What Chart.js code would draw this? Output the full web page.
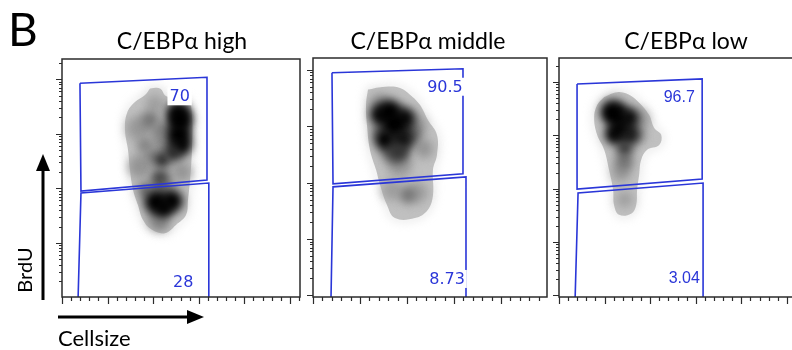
<!DOCTYPE html>
<html>
<head>
<meta charset="utf-8">
<script src="https://cdn.jsdelivr.net/npm/chart.js@4.4.1/dist/chart.umd.min.js"></script>
<style>
  html, body { margin: 0; padding: 0; background: #fff; width: 792px; height: 350px; overflow: hidden; position: relative; }
  canvas { position: absolute; top: 0; }
  .txt { position: absolute; font-family: Lato, 'Open Sans', sans-serif; color: #000; white-space: nowrap; z-index: 2; }
  .panel-letter { left: 8px; top: 6px; font-size: 46px; line-height: 46px; }
  .panel-title { top: 29px; font-size: 23px; line-height: 23px; transform: translateX(-50%); }
  .y-title { left: 24px; top: 270px; font-size: 20px; line-height: 20px; transform: translate(-50%, -50%) rotate(-90deg); }
  .x-title { left: 58px; top: 327px; font-size: 22px; line-height: 22px; }
</style>
</head>
<body>
<div class="txt panel-letter">B</div>
<div class="txt y-title">BrdU</div>
<div class="txt x-title">Cellsize</div>
<canvas id="p0" width="306" height="350" style="left:0px"></canvas>
<canvas id="p1" width="244" height="350" style="left:306px"></canvas>
<canvas id="p2" width="250" height="350" style="left:552px"></canvas>
<script>
// Panel titles and gate frequencies (%)
const panelTitles = ['C/EBPα high', 'C/EBPα middle', 'C/EBPα low'];
const upperPct    = ['70', '90.5', '96.7'];
const lowerPct    = ['28', '8.73', '3.04'];

// Axis ranges: x = cell size (FSC, x1000), y = log10 BrdU
const xMax = [261, 249, 261];
const yMin = [1.01, 0.97, 0.97];
const yMax = [5.37, 5.21, 5.45];
const xMajorTicks = [0, 50, 100, 150, 200, 250];
const xMinorTicks = [10, 20, 30, 40, 60, 70, 80, 90, 110, 120, 130, 140, 160, 170, 180, 190, 210, 220, 230, 240, 260];
const yDecades    = [1, 2, 3, 4, 5];

// Gates: [cellsize, log10 BrdU]
const highUpperGate   = [[19.7, 4.925], [159, 5.035], [159, 3.152], [20.8, 2.951], [19.7, 4.925]];
const highLowerGate   = [[17.5, 0.9], [20.8, 2.914], [161, 3.097], [161, 0.9]];
const middleUpperGate = [[20.2, 4.948], [159.6, 5.02], [159.6, 3.155], [21.3, 2.977], [20.2, 4.948]];
const middleLowerGate = [[19.1, 0.9], [21.3, 2.924], [162.8, 3.10], [162.8, 0.9]];
const lowUpperGate    = [[19.8, 4.964], [157, 5.058], [157, 3.18], [19.8, 2.994], [19.8, 4.964]];
const lowLowerGate    = [[17.6, 0.9], [20.9, 2.919], [158, 3.107], [158, 0.9]];

// Where the frequencies sit: [cellsize, log10 BrdU]
const upperLabelPos = [[129, 4.687], [140.4, 4.70], [131.9, 4.72]];
const lowerLabelPos = [[133, 1.287], [142.6, 1.29], [137.4, 1.325]];

// Outer contour of each cell population: [cellsize, log10 BrdU]
const highOutline = [
  [96.5, 4.83], [107.5, 4.83], [114.0, 4.69], [123.9, 4.65], [138.2, 4.61], [142.5, 4.34], [142.5, 3.70],
  [140.4, 3.15], [138.2, 2.79], [136.0, 2.51], [125.0, 2.33], [112.9, 2.18], [98.7, 2.24], [88.8, 2.42],
  [83.3, 2.69], [77.9, 2.97], [74.6, 3.33], [72.4, 3.70], [69.1, 4.07], [71.3, 4.38], [80.0, 4.58],
  [91.0, 4.71], [96.5, 4.83]
];
const middleOutline = [
  [58.5, 4.65], [76.6, 4.70], [92.6, 4.68], [103.2, 4.56], [113.8, 4.38], [122.3, 4.11], [131.9, 3.85],
  [131.9, 3.49], [127.7, 3.23], [127.7, 2.78], [122.3, 2.52], [108.5, 2.37], [87.2, 2.37], [78.7, 2.60],
  [71.3, 2.96], [67.0, 3.23], [60.6, 3.58], [57.4, 4.02], [56.4, 4.38], [58.5, 4.65]
];
const lowOutline = [
  [49.5, 4.72], [63.7, 4.81], [76.9, 4.76], [87.9, 4.61], [98.9, 4.38], [104.4, 4.14], [112.1, 4.01],
  [109.9, 3.82], [96.7, 3.73], [90.1, 3.54], [87.9, 3.26], [85.7, 2.98], [84.6, 2.69], [79.1, 2.53],
  [65.9, 2.51], [60.4, 2.69], [59.3, 2.98], [54.9, 3.35], [49.5, 3.73], [41.8, 4.01], [38.5, 4.33],
  [41.8, 4.57], [49.5, 4.72]
];

// Denser spots inside: [cellsize, log10 BrdU, spread (cellsize units), density 0..1]
const highCloud = [
  [83.3, 4.10, 13, 0.4], [85.5, 3.40, 13, 0.42], [112.9, 3.88, 14, 0.45], [109.6, 3.06, 14, 0.45],
  [105.3, 2.45, 12, 0.4], [102.0, 4.55, 10, 0.38], [131.6, 4.30, 11, 0.45], [131.6, 3.30, 11, 0.42],
  [96.5, 4.25, 9.9, 0.55], [91.0, 3.79, 8.8, 0.5], [107.5, 4.07, 8.8, 0.5], [98.0, 3.60, 8, 0.5],
  [109.6, 3.52, 9, 0.85], [107.5, 3.19, 9, 0.75], [91.0, 2.97, 8, 0.6], [107.5, 2.38, 8.8, 0.5],
  [127.2, 4.39, 12, 0.95], [129.4, 4.25, 13, 1], [128.3, 4.00, 13, 1], [130.0, 3.80, 12, 1],
  [122.0, 3.65, 9, 0.85],
  [103.1, 2.75, 13, 1], [120.6, 2.77, 12, 1], [111.8, 2.64, 10, 1]
];
const middleCloud = [
  [71.3, 4.40, 11, 0.42], [108.5, 4.00, 12, 0.42], [92.6, 3.31, 13, 0.4], [111.7, 2.83, 11, 0.38],
  [84.0, 2.87, 11, 0.38], [118.0, 3.60, 10, 0.42],
  [87.2, 3.58, 15, 0.6], [101.1, 2.78, 9, 0.55], [103.2, 3.85, 11, 0.65], [71.3, 3.90, 9, 0.55],
  [71.3, 4.20, 11, 0.95], [81.9, 4.25, 13, 1], [97.9, 4.15, 11, 0.95], [87.2, 4.02, 14, 1],
  [76.6, 3.76, 11, 1], [94.7, 3.76, 11, 0.95], [90.4, 3.55, 10, 0.8]
];
const lowCloud = [
  [60.4, 4.55, 11, 0.4], [87.9, 4.30, 11, 0.4], [68.0, 3.30, 10, 0.4], [72.0, 2.80, 9, 0.38],
  [71.4, 3.50, 10, 0.55], [84.0, 4.01, 10, 0.55],
  [57.1, 4.44, 11, 1], [63.7, 4.38, 13, 1], [76.9, 4.33, 11, 0.95], [60.4, 4.01, 10, 0.95],
  [68.1, 4.10, 13, 1], [76.9, 4.01, 10, 0.9], [72.0, 3.76, 9, 0.8]
];

const outlines   = [highOutline, middleOutline, lowOutline];
const clouds     = [highCloud, middleCloud, lowCloud];
const upperGates = [highUpperGate, middleUpperGate, lowUpperGate];
const lowerGates = [highLowerGate, middleLowerGate, lowLowerGate];

const GATE_BLUE = '#2a36d8';
const FRAME     = '#2b2b2b';
const titleCenters = [182, 428, 686];
const paddings = [
  { left: 62, right: 6, top: 59, bottom: 53 },
  { left: 7,  right: 3, top: 58, bottom: 53 },
  { left: 7,  right: 5, top: 58, bottom: 53 }
];
const labelFonts = ['16px "DejaVu Sans"', '16px "DejaVu Sans"', '16px "Liberation Sans"'];

const toXY = arr => arr.map(p => ({ x: p[0], y: p[1] }));

function yTickValues() {
  const minor = [];
  yDecades.forEach(d => { for (let k = 2; k <= 9; k++) minor.push(d + Math.log10(k)); });
  return minor;
}

function makeFrame(i) {
  return {
    id: 'flowFrame' + i,
    beforeDatasetDraw(chart, args) {
      if (chart.data.datasets[args.index].cloud) {
        chart.ctx.save();
        chart.ctx.filter = 'blur(5px)';
      }
    },
    afterDatasetDraw(chart, args) {
      if (chart.data.datasets[args.index].cloud) chart.ctx.restore();
    },
    afterDatasetsDraw(chart) {
      const { ctx, chartArea: a, scales: { x, y } } = chart;
      ctx.save();
      ctx.strokeStyle = FRAME;
      ctx.lineWidth = 1.5;
      ctx.strokeRect(a.left, a.top, a.right - a.left, a.bottom - a.top);

      // tick marks, outside the box
      ctx.lineWidth = 1.2;
      ctx.beginPath();
      xMinorTicks.forEach(v => {
        const px = Math.round(x.getPixelForValue(v)) + 0.5;
        if (px < a.right) { ctx.moveTo(px, a.bottom); ctx.lineTo(px, a.bottom + 4); }
      });
      xMajorTicks.forEach(v => {
        const px = Math.round(x.getPixelForValue(v)) + 0.5;
        if (px < a.right) { ctx.moveTo(px, a.bottom); ctx.lineTo(px, a.bottom + 7); }
      });
      yTickValues().forEach(v => {
        const py = Math.round(y.getPixelForValue(v)) + 0.5;
        if (py > a.top && py < a.bottom) { ctx.moveTo(a.left, py); ctx.lineTo(a.left - 3, py); }
      });
      yDecades.forEach(v => {
        const py = Math.round(y.getPixelForValue(v)) + 0.5;
        if (py > a.top && py <= a.bottom) { ctx.moveTo(a.left, py); ctx.lineTo(a.left - 6, py); }
      });
      ctx.stroke();

      // gate frequencies
      ctx.font = labelFonts[i];
      ctx.textAlign = 'center';
      ctx.textBaseline = 'middle';
      [[upperPct[i], upperLabelPos[i]], [lowerPct[i], lowerLabelPos[i]]].forEach(([t, p]) => {
        const px = x.getPixelForValue(p[0]);
        const py = y.getPixelForValue(p[1]);
        const w = ctx.measureText(t).width;
        ctx.fillStyle = '#fff';
        ctx.fillRect(px - w / 2 - 2, py - 9, w + 4, 18);
        ctx.fillStyle = GATE_BLUE;
        ctx.fillText(t, px, py + 1);
      });
      ctx.restore();
    },
    afterDraw(chart) {
      if (i !== 0) return;
      // direction arrows next to the axes of the first panel
      const ctx = chart.ctx;
      ctx.save();
      ctx.fillStyle = '#000';
      ctx.fillRect(41.5, 168, 3, 132);
      ctx.beginPath();
      ctx.moveTo(43, 154); ctx.lineTo(50, 171); ctx.lineTo(36, 171); ctx.closePath();
      ctx.fill();
      ctx.fillRect(58, 315.5, 132, 3);
      ctx.beginPath();
      ctx.moveTo(204, 317); ctx.lineTo(187, 310); ctx.lineTo(187, 324); ctx.closePath();
      ctx.fill();
      ctx.restore();
    }
  };
}

function spreadPx(ctx) {
  const p = ctx.raw;
  if (!p) return 0;
  const sx = ctx.chart.scales.x;
  return sx.getPixelForValue(p.x + p.s) - sx.getPixelForValue(p.x);
}

function shade(ctx) {
  const p = ctx.raw;
  if (!p) return '#888';
  const g = Math.round(255 * (1 - p.d));
  return `rgb(${g},${g},${g})`;
}

panelTitles.forEach((title, i) => {
  const div = document.createElement('div');
  div.className = 'txt panel-title';
  div.style.left = titleCenters[i] + 'px';
  div.textContent = title;
  document.body.appendChild(div);

  new Chart(document.getElementById('p' + i), {
    type: 'scatter',
    data: {
      datasets: [
        {
          label: 'upper gate', data: toXY(upperGates[i]), showLine: true,
          borderColor: GATE_BLUE, borderWidth: 1.6, pointRadius: 0, fill: false, order: 0
        },
        {
          label: 'lower gate', data: toXY(lowerGates[i]), showLine: true,
          borderColor: GATE_BLUE, borderWidth: 1.6, pointRadius: 0, fill: false, order: 0
        },
        {
          label: 'cells', cloud: true, order: 1,
          data: clouds[i].map(c => ({ x: c[0], y: c[1], s: c[2], d: c[3] })),
          pointRadius: spreadPx, pointBackgroundColor: shade, pointBorderWidth: 0,
          pointHoverRadius: spreadPx
        },
        {
          label: 'population', cloud: true, order: 2,
          data: toXY(outlines[i]), showLine: true, tension: 0.4,
          fill: 'shape', backgroundColor: 'rgb(192,192,192)', borderColor: 'rgb(192,192,192)',
          borderWidth: 2, pointRadius: 0
        }
      ]
    },
    options: {
      responsive: false,
      animation: false,
      events: [],
      layout: { padding: paddings[i] },
      plugins: { legend: { display: false }, tooltip: { enabled: false } },
      scales: {
        x: { type: 'linear', min: 0, max: xMax[i], display: false },
        y: { type: 'linear', min: yMin[i], max: yMax[i], display: false }
      }
    },
    plugins: [makeFrame(i)]
  });
});
</script>
</body>
</html>
